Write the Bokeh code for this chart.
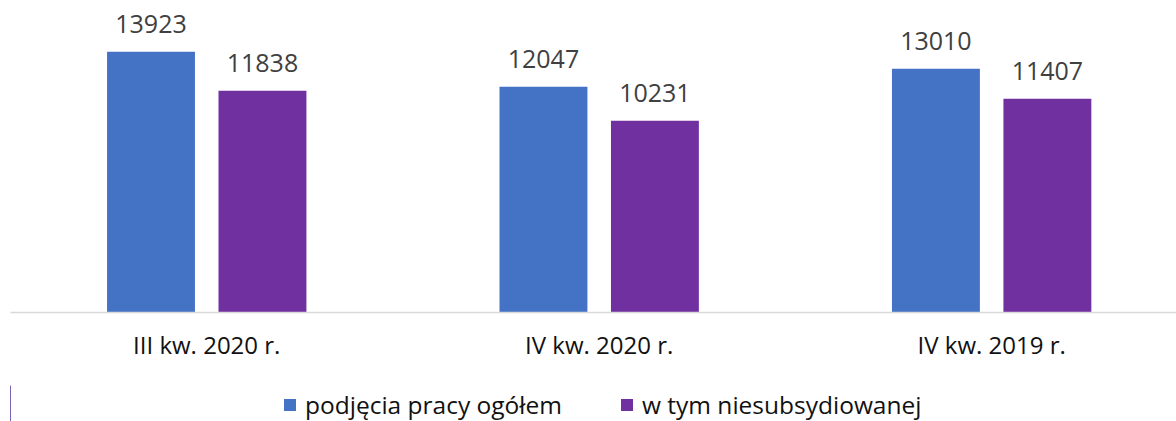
from bokeh.plotting import figure
from bokeh.models import Range1d, FixedTicker, ColumnDataSource, LabelSet, Legend, LegendItem
from bokeh.layouts import column
from bokeh.core.properties import value
from bokeh.embed import file_html
from bokeh.resources import INLINE

categories = ["III kw. 2020 r.", "IV kw. 2020 r.", "IV kw. 2019 r."]
total = [13923, 12047, 13010]
unsubsidized = [11838, 10231, 11407]
series_names = ["podjęcia pracy ogółem", "w tym niesubsydiowanej"]

FONT = "Open Sans"
BLUE = "#4472C4"
PURPLE = "#7030A0"

centers = [i + 0.5 for i in range(len(categories))]
off = 0.142
bw = 0.224

src1 = ColumnDataSource(dict(x=[c - off for c in centers], y=total, lab=[str(v) for v in total]))
src2 = ColumnDataSource(dict(x=[c + off for c in centers], y=unsubsidized, lab=[str(v) for v in unsubsidized]))

p = figure(width=1176, height=385, output_backend="svg", toolbar_location=None,
           x_range=Range1d(0, 2.971), y_range=Range1d(0, 16653),
           y_axis_location=None, min_border_left=10, min_border_right=0,
           min_border_top=0, min_border_bottom=73)
p.outline_line_color = None
p.grid.visible = False
p.background_fill_color = "white"
p.border_fill_color = "white"

p.vbar(x="x", top="y", width=bw, source=src1, fill_color=BLUE, line_color=None)
p.vbar(x="x", top="y", width=bw, source=src2, fill_color=PURPLE, line_color=None)

for s in (src1, src2):
    p.add_layout(LabelSet(x="x", y="y", text="lab", source=s, y_offset=19,
                          text_align="center", text_baseline="alphabetic",
                          text_font=value(FONT), text_font_size=value("25px"),
                          text_color=value("#404040")))

ax = p.xaxis[0]
ax.ticker = FixedTicker(ticks=centers)
ax.major_label_overrides = {c: lab for c, lab in zip(centers, categories)}
ax.major_tick_line_color = None
ax.minor_tick_line_color = None
ax.axis_line_color = "#d9d9d9"
ax.axis_line_width = 1.5
ax.major_label_text_font = FONT
ax.major_label_text_font_size = "24px"
ax.major_label_text_color = "#111111"
ax.major_label_standoff = 9

# legend strip (zero-width series out of view; only their legend keys show)
lg = figure(width=1176, height=36, output_backend="svg", toolbar_location=None,
            x_range=Range1d(4, 5), y_range=Range1d(0, 1),
            x_axis_location=None, y_axis_location=None,
            min_border_left=0, min_border_right=0, min_border_top=0, min_border_bottom=0)
lg.outline_line_color = None
lg.grid.visible = False
k1 = lg.vbar(x="x", top="y", width=0, source=src1, fill_color=BLUE, line_color=None)
k2 = lg.vbar(x="x", top="y", width=0, source=src2, fill_color=PURPLE, line_color=None)

legend = Legend(items=[LegendItem(label=series_names[0], renderers=[k1]),
                       LegendItem(label=series_names[1], renderers=[k2])],
                orientation="horizontal", location=(272, 0),
                label_text_font=FONT, label_text_font_size="24.5px", label_text_color="#111111",
                glyph_width=15, glyph_height=15, label_standoff=8, spacing=57,
                padding=0, margin=0, border_line_color=None, background_fill_alpha=0)
lg.add_layout(legend, "center")

layout = column(p, lg, spacing=0)
open("out.html", "w").write(file_html(layout, INLINE))
